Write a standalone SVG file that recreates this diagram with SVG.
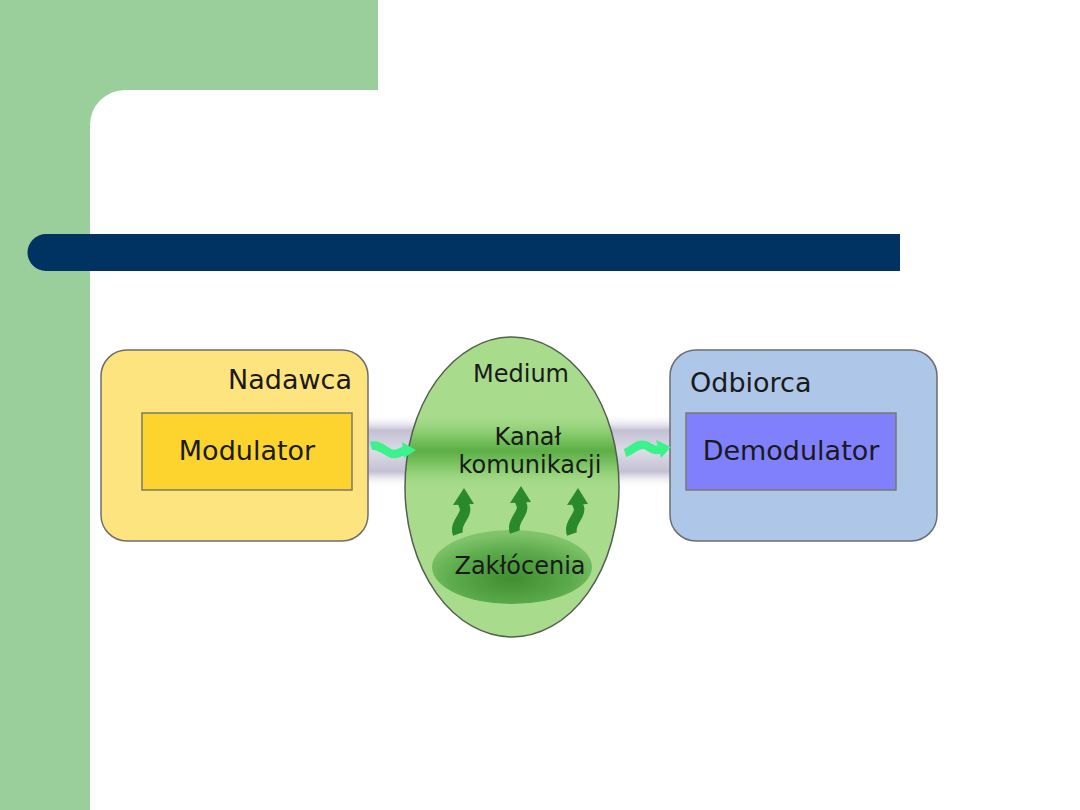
<svg xmlns="http://www.w3.org/2000/svg" width="1080" height="810" viewBox="0 0 1080 810">
<defs>
<style>
.lbl{font-family:"DejaVu Sans",Verdana,sans-serif;fill:#1a1a1a}
.big{font-size:27px}
.mid{font-size:24px}
.outer{stroke:#6e6e6e;stroke-width:1.5}
.inner{stroke:#7a7a6a;stroke-width:1.5}
.noise{fill:#2a8a2a}
.noiseb{fill:none;stroke:#2a8a2a;stroke-width:10.5}
.sig{fill:#3cf28c}
.sigb{fill:none;stroke:#3cf28c;stroke-width:8.5}
</style>
<linearGradient id="band" x1="0" y1="0" x2="0" y2="1">
<stop offset="0" stop-color="#ffffff" stop-opacity="0"/>
<stop offset="0.22" stop-color="#c4c0d4"/>
<stop offset="0.5" stop-color="#dcdce6"/>
<stop offset="0.78" stop-color="#c4c0d4"/>
<stop offset="1" stop-color="#ffffff" stop-opacity="0"/>
</linearGradient>
<linearGradient id="gband" x1="0" y1="0" x2="0" y2="1">
<stop offset="0" stop-color="#a6da8a" stop-opacity="0"/>
<stop offset="0.3" stop-color="#82c868"/>
<stop offset="0.5" stop-color="#5cae46"/>
<stop offset="0.7" stop-color="#82c868"/>
<stop offset="1" stop-color="#a6da8a" stop-opacity="0"/>
</linearGradient>
<radialGradient id="zak" cx="0.5" cy="0.65" r="0.6">
<stop offset="0" stop-color="#3e8f30"/>
<stop offset="0.6" stop-color="#5aa94a"/>
<stop offset="1" stop-color="#80c46a"/>
</radialGradient>
<clipPath id="ell"><ellipse cx="512" cy="487" rx="107" ry="150"/></clipPath>
</defs>
<rect width="1080" height="810" fill="#ffffff"/>
<g id="background">
<rect x="0" y="0" width="90" height="810" fill="#9acf9b"/>
<rect x="0" y="0" width="378" height="90" fill="#9acf9b"/>
<path d="M90 90 H125 A35 35 0 0 0 90 125 Z" fill="#9acf9b"/>
<path d="M900 234 H46 A18.5 18.5 0 0 0 46 271 H900 Z" fill="#003262"/>
</g>
<g id="channel-band">
<rect x="366" y="414" width="306" height="74" fill="url(#band)"/>
</g>
<g id="nadawca">
<rect class="outer" x="101" y="350" width="267" height="191" rx="26" fill="#fee47e"/>
<text class="lbl big" x="352" y="389" text-anchor="end">Nadawca</text>
</g>
<g id="modulator">
<rect class="inner" x="142" y="413" width="210" height="77" fill="#fdd42e"/>
<text class="lbl big" x="247" y="460" text-anchor="middle">Modulator</text>
</g>
<g id="medium">
<ellipse cx="512" cy="487" rx="107" ry="150" fill="#a8dc8c"/>
<rect x="400" y="412" width="224" height="78" fill="url(#gband)" clip-path="url(#ell)"/>
<ellipse cx="512" cy="487" rx="107" ry="150" fill="none" stroke="#555f50" stroke-width="1.5"/>
<text class="lbl mid" x="521" y="382" text-anchor="middle">Medium</text>
<text class="lbl mid" x="528" y="445" text-anchor="middle">Kanał</text>
<text class="lbl mid" x="530" y="473" text-anchor="middle">komunikacji</text>
</g>
<g id="zaklocenia">
<ellipse cx="512" cy="567" rx="80" ry="37" fill="url(#zak)"/>
<text class="lbl mid" x="520" y="574" text-anchor="middle">Zakłócenia</text>
</g>
<g id="odbiorca">
<rect class="outer" x="670" y="350" width="267" height="191" rx="26" fill="#aec6e8"/>
<text class="lbl big" x="690" y="392">Odbiorca</text>
</g>
<g id="demodulator">
<rect class="inner" x="686" y="413" width="210" height="77" fill="#8080fd" stroke="#5a5a8a"/>
<text class="lbl big" x="791" y="460" text-anchor="middle">Demodulator</text>
</g>
<g id="connectors">
<path class="sigb" d="M371 446 C378 444 384 450 390 453 C396 456 400 452 406 450"/>
<path class="sig" d="M402 442 L416 450 L404 458 Z"/>
<path class="sigb" d="M625 453 C632 451 637 443 645 445 C651 447 653 452 660 449"/>
<path class="sig" d="M656 440 L671 447 L661 458 Z"/>
<g transform="translate(463,512)">
<path class="noiseb" d="M-5 22 C-9 11 4 4 2 -4 C1 -8 -1 -9 0 -12"/>
<path class="noise" d="M-10 -7 L1 -24 L11 -8 Z"/>
</g>
<g transform="translate(520,510)">
<path class="noiseb" d="M-5 22 C-9 11 4 4 2 -4 C1 -8 -1 -9 0 -12"/>
<path class="noise" d="M-10 -7 L1 -24 L11 -8 Z"/>
</g>
<g transform="translate(577,512)">
<path class="noiseb" d="M-5 22 C-9 11 4 4 2 -4 C1 -8 -1 -9 0 -12"/>
<path class="noise" d="M-10 -7 L1 -24 L11 -8 Z"/>
</g>
</g>
</svg>
